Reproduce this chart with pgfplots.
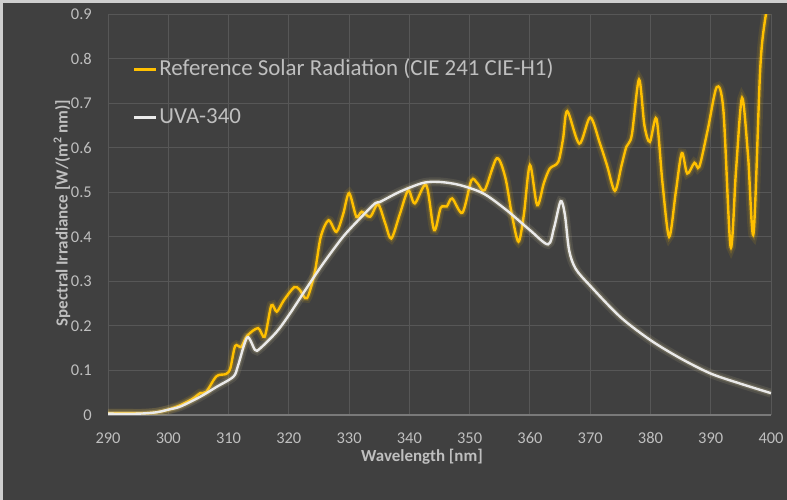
\documentclass[border=0pt]{standalone}
\usepackage{pgfplots}
\pgfplotsset{compat=1.18}
\usepackage{pgfplotstable}
\usepackage{fontspec}
\setmainfont{Carlito}
\definecolor{bg}{HTML}{404040}
\definecolor{gridc}{HTML}{575757}
\definecolor{axc}{HTML}{7A7A7A}
\definecolor{txt}{HTML}{BFBFBF}
\definecolor{gold}{HTML}{FFC000}
\definecolor{wht}{HTML}{EAEAEA}
\definecolor{frame}{HTML}{CFCFCF}

\pgfplotstableread{
x y
290 0.004
293 0.004
296 0.004
298 0.006
300 0.012
302 0.022
304 0.036
305.3 0.049
306.3 0.052
308.0 0.087
309.6 0.092
310.3 0.105
311.1 0.155
312.1 0.153
313.1 0.178
314.9 0.195
316.0 0.176
317.1 0.246
318.0 0.232
319.2 0.258
320.9 0.287
321.8 0.281
323.0 0.262
324.3 0.32
325.3 0.40
326.6 0.437
327.9 0.411
329.0 0.45
330.0 0.498
331.2 0.445
332.1 0.456
333.5 0.445
334.8 0.473
336.0 0.43
337.0 0.396
338.4 0.45
339.8 0.504
340.9 0.475
342.8 0.516
344.1 0.415
345.2 0.465
346.2 0.468
347.1 0.486
348.8 0.454
350.3 0.527
351.3 0.52
352.5 0.505
354.5 0.576
355.9 0.534
357.0 0.45
358.1 0.389
359.0 0.45
360.0 0.561
361.2 0.471
362.3 0.52
363.3 0.553
364.7 0.568
365.5 0.62
366.2 0.682
368.2 0.609
370.0 0.668
371.6 0.61
372.8 0.56
374.1 0.503
375.2 0.56
376.0 0.602
376.9 0.628
378.1 0.753
379.0 0.65
379.9 0.613
381.0 0.665
382.0 0.52
383.1 0.40
384.2 0.50
385.2 0.588
386.1 0.542
387.3 0.566
388.1 0.557
389.5 0.64
391.0 0.736
392.1 0.684
393.3 0.377
394.2 0.55
395.2 0.712
396.2 0.58
397.1 0.407
398.2 0.774
399.0 0.886
400.0 0.95
}\solar

\pgfplotstableread{
x y
290 0.003
295 0.003
298 0.006
300 0.012
302 0.019
305.3 0.041
308.0 0.063
310.8 0.086
311.6 0.112
313.1 0.174
314.4 0.146
315.2 0.149
318.0 0.187
320.2 0.228
323.2 0.29
325.7 0.34
329.0 0.40
331.8 0.441
334.3 0.475
335.1 0.478
338.4 0.501
342.3 0.521
345.1 0.523
348.4 0.516
352.3 0.497
356.1 0.46
360.0 0.415
363.0 0.383
364.0 0.42
365.1 0.48
365.8 0.45
366.5 0.37
367.6 0.328
370.0 0.29
375.0 0.22
380.0 0.168
385.0 0.127
390.0 0.093
395.0 0.07
400.0 0.049
}\uva

\begin{document}
\begin{tikzpicture}
\fill[bg] (0,0) rectangle (787bp,500bp);
\fill[frame] (0,497bp) rectangle (787bp,500bp);
\fill[frame] (0,0) rectangle (3bp,500bp);
\begin{axis}[
  at={(108bp,85bp)}, anchor=south west,
  scale only axis, width=663bp, height=401bp,
  xmin=290, xmax=400, ymin=0, ymax=0.9,
  xtick={290,300,...,400},
  ytick={0,0.1,0.2,0.3,0.4,0.5,0.6,0.7,0.8,0.9},
  yticklabels={0,0.1,0.2,0.3,0.4,0.5,0.6,0.7,0.8,0.9},
  xticklabels={290,300,310,320,330,340,350,360,370,380,390,400},
  major tick length=0pt,
  grid=major,
  major grid style={draw=gridc, line width=0.9bp},
  axis x line=bottom, axis y line=left,
  x axis line style={-, draw=axc, line width=1.2bp},
  y axis line style={-, draw=gridc, line width=0.9bp},
  tick label style={font=\fontsize{16.5}{18}\selectfont, text=txt},
  xticklabel style={anchor=center, yshift=-23bp},
  yticklabel style={anchor=east, inner sep=0pt, xshift=-16bp},
  xlabel={Wavelength [nm]},
  ylabel={Spectral Irradiance [W/(m\textsuperscript{2} nm)]},
  label style={font=\bfseries\fontsize{17}{19}\selectfont, text=txt},
  xlabel style={at={(axis description cs:0.4736,-0.1047)}, anchor=center},
  ylabel style={at={(axis description cs:-0.0694,0.504)}, anchor=center},
  legend style={at={(axis description cs:0.0377,0.8017)}, anchor=west,
    draw=none, fill=none, inner sep=0pt, outer sep=0pt,
    font=\fontsize{23}{25}\selectfont, text=txt,
    row sep=29bp, column sep=2bp,
    nodes={inner sep=0pt, text height=15bp, text depth=4bp}},
  legend cell align=left,
  legend image code/.code={\draw[#1] (0bp,0bp) -- (22bp,0bp);},
]
\addplot[forget plot, smooth, draw=gold, opacity=0.10, line width=9bp] table {\solar};
\addplot[forget plot, smooth, draw=gold, opacity=0.18, line width=5bp] table {\solar};
\addplot[smooth, draw=gold, line width=2.4bp] table {\solar};
\addlegendentry{Reference Solar Radiation (CIE 241 CIE-H1)}
\addplot[forget plot, smooth, draw=wht!70!gold, opacity=0.10, line width=9bp] table {\uva};
\addplot[forget plot, smooth, draw=wht!70!gold, opacity=0.18, line width=5bp] table {\uva};
\addplot[smooth, draw=wht, line width=2.4bp] table {\uva};
\addlegendentry{UVA-340}
\end{axis}
\end{tikzpicture}
\end{document}
